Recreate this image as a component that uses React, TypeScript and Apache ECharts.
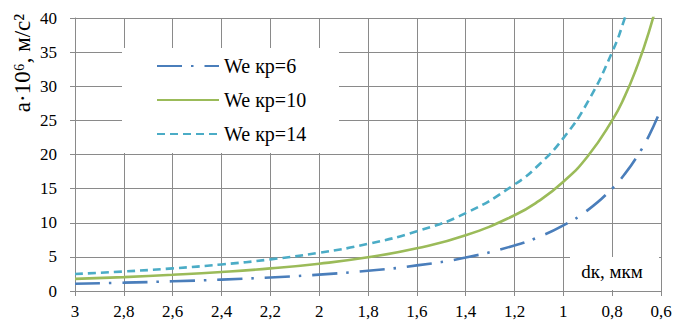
import React, { useEffect, useRef } from "react";
import * as echarts from "echarts";

// diameter dк, мкм
const dValues = [3, 2.8, 2.6, 2.4, 2.2, 2.0, 1.8, 1.6, 1.4, 1.2, 1.1, 1.0, 0.9, 0.8, 0.75, 0.7, 0.65, 0.6];
// a·10^6, м/с²
const weKr6 = [1.07, 1.22, 1.42, 1.67, 1.98, 2.4, 2.96, 3.75, 4.9, 6.67, 7.93, 9.6, 11.85, 15.0, 17.07, 19.6, 22.7, 26.7];
const weKr10 = [1.78, 2.04, 2.37, 2.78, 3.31, 4.0, 4.94, 6.25, 8.16, 11.1, 13.2, 16.0, 19.75, 25.0, 28.4, 32.7, 37.9, 44.4];
const weKr14 = [2.49, 2.86, 3.31, 3.89, 4.63, 5.6, 6.91, 8.75, 11.4, 15.6, 18.5, 22.4, 27.7, 35.0, 39.8, 45.7, 53.0, 62.2];
const seriesNames = ["We кр=6", "We кр=10", "We кр=14"];

const FONT = "Liberation Serif";
const GRID = "#8a8a8a";

const pair = (vals: number[]) => dValues.map((d, i) => [d, vals[i]]);

export default function App() {
  const ref = useRef<HTMLDivElement>(null);
  useEffect(() => {
    if (!ref.current) return;
    const chart = echarts.init(ref.current, undefined, { renderer: "svg" });
    chart.setOption({
      animation: false,
      backgroundColor: "#fff",
      textStyle: { fontFamily: FONT },
      grid: { left: 75, right: 14, top: 18, bottom: 30 },
      xAxis: {
        type: "value",
        inverse: true,
        min: 0.6,
        max: 3,
        interval: 0.2,
        axisLine: { show: true, lineStyle: { color: GRID, width: 1 } },
        axisTick: { show: true, length: 5, lineStyle: { color: GRID } },
        splitLine: { show: true, lineStyle: { color: GRID, width: 1 } },
        axisLabel: {
          margin: 12,
          fontFamily: FONT,
          fontSize: 17,
          color: "#000",
          formatter: (v: number) => String(Math.round(v * 10) / 10).replace(".", ","),
        },
      },
      yAxis: {
        type: "value",
        min: 0,
        max: 40,
        interval: 5,
        axisLine: { show: true, lineStyle: { color: GRID, width: 1 } },
        axisTick: { show: true, length: 5, lineStyle: { color: GRID } },
        splitLine: { show: true, lineStyle: { color: GRID, width: 1 } },
        axisLabel: { margin: 18, fontFamily: FONT, fontSize: 17, color: "#000" },
      },
      legend: {
        orient: "vertical",
        left: 122,
        top: 48,
        padding: [8, 10, 10, 34],
        itemWidth: 62,
        itemHeight: 14,
        itemGap: 14,
        itemStyle: { opacity: 0 },
        textStyle: { fontFamily: FONT, fontSize: 20, color: "#000" },
        data: seriesNames,
      },
      graphic: [
        {
          type: "rect",
          z: 1,
          shape: { x: 122, y: 48, width: 217, height: 105 },
          style: { fill: "#fff" },
        },
        {
          type: "rect",
          z: 1,
          shape: { x: 570, y: 257, width: 89, height: 33 },
          style: { fill: "#fff" },
        },
        {
          type: "text",
          z: 5,
          x: 612,
          y: 271,
          style: {
            text: "dк, мкм",
            fontFamily: FONT,
            fontSize: 19,
            fill: "#000",
            align: "center",
            verticalAlign: "middle",
          },
        },
        {
          type: "text",
          z: 5,
          x: 22,
          y: 63,
          rotation: Math.PI / 2,
          style: {
            text: "a·10⁶, м/с²",
            fontFamily: FONT,
            fontSize: 23,
            fill: "#000",
            align: "center",
            verticalAlign: "middle",
          },
        },
      ],
      series: [
        {
          name: seriesNames[0],
          type: "line",
          smooth: true,
          symbol: "none",
          z: 3,
          data: pair(weKr6),
          lineStyle: { color: "#4a7ebb", width: 2.6, type: [25, 9, 2.5, 11] },
          itemStyle: { color: "#4a7ebb" },
        },
        {
          name: seriesNames[1],
          type: "line",
          smooth: true,
          symbol: "none",
          z: 3,
          data: pair(weKr10),
          lineStyle: { color: "#9bbb59", width: 2.6 },
          itemStyle: { color: "#9bbb59" },
        },
        {
          name: seriesNames[2],
          type: "line",
          smooth: true,
          symbol: "none",
          z: 3,
          data: pair(weKr14),
          lineStyle: { color: "#4bacc6", width: 2.6, type: [8, 5] },
          itemStyle: { color: "#4bacc6" },
        },
      ],
    });
    return () => chart.dispose();
  }, []);
  return (
    <div
      ref={ref}
      style={{ position: "absolute", left: 0, top: 0, width: 675, height: 321 }}
    />
  );
}
